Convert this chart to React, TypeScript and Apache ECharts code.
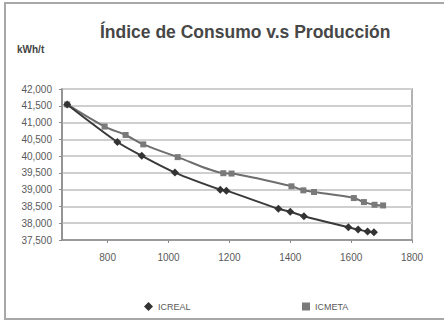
import React, { useEffect, useRef } from "react";
import * as echarts from "echarts";

// Production (x) vs. consumption index kWh/t (y)
const icRealX = [667, 832, 912, 1021, 1170, 1190, 1361, 1400, 1445, 1591, 1623, 1654, 1675];
const icRealY = [41540, 40420, 40010, 39510, 39000, 38970, 38430, 38340, 38210, 37880, 37810, 37750, 37730];

const icMetaX = [667, 790, 859, 917, 1030, 1180, 1207, 1404, 1443, 1478, 1609, 1642, 1677, 1705];
const icMetaY = [41540, 40880, 40630, 40350, 39970, 39490, 39480, 39100, 38980, 38930, 38750, 38630, 38550, 38530];

const xTicks = [800, 1000, 1200, 1400, 1600, 1800];
const seriesNames = ["ICREAL", "ICMETA"];
const titleText = "Índice de Consumo v.s Producción";
const unitText = "kWh/t";

const FONT = "'Liberation Sans', Arial, sans-serif";

export default function App() {
  const ref = useRef<HTMLDivElement>(null);

  useEffect(() => {
    document.body.style.margin = "0";
    if (!ref.current) return;
    const chart = echarts.init(ref.current, undefined, { renderer: "svg" });

    const pairs = (xs: number[], ys: number[]) => xs.map((x, i) => [x, ys[i]]);

    chart.setOption({
      animation: false,
      backgroundColor: "#ffffff",
      textStyle: { fontFamily: FONT },
      graphic: [
        {
          type: "rect",
          shape: { x: 5, y: 3, width: 460, height: 316 },
          style: { fill: "none", stroke: "#a8a8a8", lineWidth: 2 },
          silent: true,
        },
        {
          type: "text",
          left: 100,
          top: 23,
          style: { text: titleText, font: `bold 17.5px ${FONT}`, fill: "#474747" },
        },
        {
          type: "text",
          left: 17,
          top: 44,
          style: { text: unitText, font: `bold 10px ${FONT}`, fill: "#444" },
        },
      ],
      legend: [
        {
          data: [{ name: seriesNames[0], icon: "diamond" }],
          left: 139,
          top: 297,
          itemWidth: 9,
          itemHeight: 9,
          itemGap: 6,
          textStyle: { fontSize: 9, color: "#5a5a5a", fontFamily: FONT },
        },
        {
          data: [{ name: seriesNames[1], icon: "rect" }],
          left: 297,
          top: 297,
          itemWidth: 8,
          itemHeight: 8,
          itemGap: 6,
          textStyle: { fontSize: 9, color: "#5a5a5a", fontFamily: FONT },
        },
      ],
      grid: {
        left: 62,
        right: 32,
        top: 89,
        bottom: 81,
        show: true,
        borderColor: "#9a9a9a",
        borderWidth: 1.5,
        backgroundColor: "#ffffff",
      },
      xAxis: {
        type: "value",
        min: 650,
        max: 1800,
        axisLine: { show: true, lineStyle: { color: "#8a8a8a", width: 1.5 } },
        axisTick: { show: true, length: 3, customValues: xTicks, lineStyle: { color: "#8a8a8a" } },
        axisLabel: {
          customValues: xTicks,
          margin: 12,
          fontSize: 10,
          color: "#5a5a5a",
          fontFamily: FONT,
          formatter: (v: number) => String(v),
        },
        splitLine: { show: false },
      },
      yAxis: {
        type: "value",
        min: 37500,
        max: 42000,
        interval: 500,
        axisLine: { show: true, lineStyle: { color: "#8a8a8a", width: 1.5 } },
        axisTick: { show: true, length: 3, lineStyle: { color: "#8a8a8a" } },
        axisLabel: {
          margin: 10,
          fontSize: 10,
          color: "#5a5a5a",
          fontFamily: FONT,
          formatter: (v: number) => v.toLocaleString("en-US"),
        },
        splitLine: { show: true, lineStyle: { color: "#cfcfcf", width: 2 } },
      },
      series: [
        {
          name: seriesNames[0],
          type: "line",
          data: pairs(icRealX, icRealY),
          smooth: 0.3,
          symbol: "diamond",
          symbolSize: 8,
          itemStyle: { color: "#333333" },
          lineStyle: { color: "#3a3a3a", width: 2 },
          z: 3,
        },
        {
          name: seriesNames[1],
          type: "line",
          data: pairs(icMetaX, icMetaY),
          smooth: 0.3,
          symbol: "rect",
          symbolSize: 6,
          itemStyle: { color: "#7a7a7a" },
          lineStyle: { color: "#6e6e6e", width: 2 },
          z: 2,
        },
      ],
    });

    return () => chart.dispose();
  }, []);

  return <div ref={ref} style={{ width: 444, height: 321 }} />;
}
